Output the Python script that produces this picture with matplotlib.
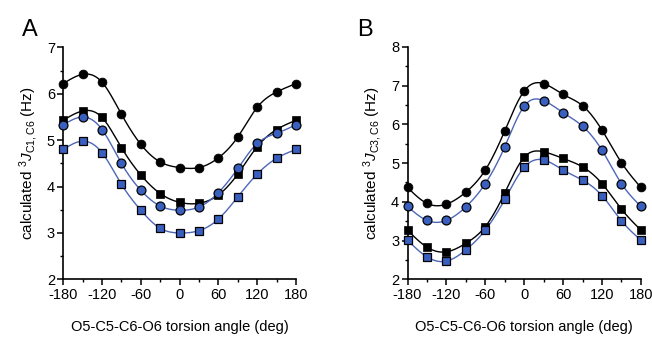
import numpy as np
import matplotlib

matplotlib.use("Agg")
import matplotlib.pyplot as plt

plt.rcParams["font.family"] = ["Liberation Sans", "DejaVu Sans"]
plt.rcParams["mathtext.fontset"] = "custom"
plt.rcParams["mathtext.rm"] = "Liberation Sans"
plt.rcParams["mathtext.it"] = "Liberation Sans:italic"

# ─── Data ─────────────────────────────────────────────────────────────────────
angles = [-180, -150, -120, -90, -60, -30, 0, 30, 60, 90, 120, 150, 180]

a_black_circle = [6.22, 6.42, 6.25, 5.56, 4.91, 4.53, 4.41, 4.41, 4.62, 5.07, 5.71, 6.04, 6.22]
a_black_square = [5.43, 5.63, 5.49, 4.84, 4.25, 3.85, 3.66, 3.64, 3.82, 4.27, 4.86, 5.23, 5.43]
a_blue_circle = [5.33, 5.50, 5.23, 4.50, 3.92, 3.58, 3.49, 3.56, 3.87, 4.39, 4.93, 5.15, 5.33]
a_blue_square = [4.80, 4.98, 4.73, 4.05, 3.49, 3.10, 3.00, 3.05, 3.30, 3.78, 4.27, 4.61, 4.80]

b_black_circle = [4.37, 3.96, 3.94, 4.25, 4.82, 5.83, 6.86, 7.05, 6.77, 6.48, 5.85, 5.01, 4.37]
b_blue_circle = [3.88, 3.52, 3.52, 3.87, 4.47, 5.42, 6.47, 6.61, 6.30, 5.95, 5.33, 4.47, 3.88]
b_black_square = [3.27, 2.83, 2.71, 2.93, 3.36, 4.23, 5.15, 5.29, 5.12, 4.90, 4.47, 3.81, 3.27]
b_blue_square = [3.01, 2.58, 2.47, 2.76, 3.27, 4.06, 4.89, 5.08, 4.82, 4.56, 4.16, 3.51, 3.01]

xticks = [-180, -120, -60, 0, 60, 120, 180]

BLUE_LINE = "#4d66b8"
BLUE_FILL = "#3a60bf"


def spline(x, y, n=400):
    """Natural cubic spline through the points (like Origin's spline connector)."""
    x = np.asarray(x, float)
    y = np.asarray(y, float)
    k = len(x)
    h = np.diff(x)
    A = np.zeros((k, k))
    r = np.zeros(k)
    A[0, 0] = A[-1, -1] = 1.0
    for i in range(1, k - 1):
        A[i, i - 1] = h[i - 1]
        A[i, i] = 2 * (h[i - 1] + h[i])
        A[i, i + 1] = h[i]
        r[i] = 6 * ((y[i + 1] - y[i]) / h[i] - (y[i] - y[i - 1]) / h[i - 1])
    m = np.linalg.solve(A, r)
    xs = np.linspace(x[0], x[-1], n)
    idx = np.clip(np.searchsorted(x, xs) - 1, 0, k - 2)
    x0, x1, hh = x[idx], x[idx + 1], h[idx]
    t0, t1 = x1 - xs, xs - x0
    ys = (m[idx] * t0**3 + m[idx + 1] * t1**3) / (6 * hh) \
        + (y[idx] / hh - m[idx] * hh / 6) * t0 \
        + (y[idx + 1] / hh - m[idx + 1] * hh / 6) * t1
    return xs, ys


def series(ax, y, marker, blue):
    lc = BLUE_LINE if blue else "black"
    fc = BLUE_FILL if blue else "black"
    xs, ys = spline(angles, y)
    ax.plot(xs, ys, color=lc, lw=1.0, zorder=2, clip_on=False)
    ms = 6.4 if marker == "o" else 5.8
    ax.plot(angles, y, ls="none", marker=marker, ms=ms, mfc=fc, mec="black",
            mew=0.9 if blue else 0.5, zorder=3, clip_on=False)


def style(ax, ylim, ylabel):
    ax.set_xlim(-180, 180)
    ax.set_ylim(*ylim)
    ax.set_xticks(xticks)
    ax.set_xticklabels([str(t) for t in xticks])
    ax.set_xticks(np.arange(-150, 180, 60), minor=True)
    ax.set_yticks(np.arange(ylim[0], ylim[1] + 1, 1))
    ax.set_yticks(np.arange(ylim[0] + 0.5, ylim[1], 1), minor=True)
    ax.spines["top"].set_visible(False)
    ax.spines["right"].set_visible(False)
    for s in ("left", "bottom"):
        ax.spines[s].set_linewidth(1.2)
    ax.tick_params(which="major", direction="out", length=4, width=1.1, labelsize=10.5, pad=2)
    ax.tick_params(which="minor", direction="out", length=2.5, width=1.0)
    ax.set_ylabel(ylabel, fontsize=11, labelpad=5)
    ax.set_xlabel("O5-C5-C6-O6 torsion angle (deg)", fontsize=10.5, labelpad=13)


fig = plt.figure(figsize=(6.52, 3.39), dpi=100)
axA = fig.add_axes([0.097, 0.176, 0.357, 0.684])
axB = fig.add_axes([0.625, 0.176, 0.358, 0.686])

series(axA, a_black_circle, "o", False)
series(axA, a_black_square, "s", False)
series(axA, a_blue_circle, "o", True)
series(axA, a_blue_square, "s", True)
style(axA, (2, 7), r"calculated $^{3}J_{\mathrm{C1,C6}}$ (Hz)")

series(axB, b_black_circle, "o", False)
series(axB, b_blue_circle, "o", True)
series(axB, b_black_square, "s", False)
series(axB, b_blue_square, "s", True)
style(axB, (2, 8), r"calculated $^{3}J_{\mathrm{C3,C6}}$ (Hz)")

fig.text(0.034, 0.895, "A", fontsize=17)
fig.text(0.548, 0.895, "B", fontsize=17)

fig.savefig("out.png", dpi=100)
